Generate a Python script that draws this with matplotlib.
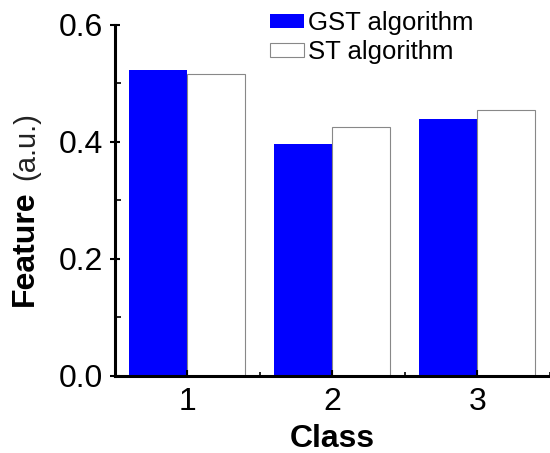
import numpy as np
import matplotlib
matplotlib.use("Agg")
import matplotlib.pyplot as plt
from matplotlib.ticker import MultipleLocator

plt.rcParams['font.family'] = ['Liberation Sans', 'DejaVu Sans']

# data
classes = [1, 2, 3]
gst_values = [0.523, 0.397, 0.439]
st_values = [0.516, 0.426, 0.455]
series_labels = ['GST algorithm', 'ST algorithm']

fig = plt.figure(figsize=(5.5, 4.53), dpi=100)
ax = fig.add_axes([0.209, 0.170, 0.791, 0.775])

x = np.array(classes)
width = 0.4
ax.bar(x - width / 2, gst_values, width, color='#0000ff', edgecolor='none',
       label=series_labels[0])
ax.bar(x + width / 2, st_values, width, color='white', edgecolor='#888888',
       linewidth=0.8, label=series_labels[1])

ax.set_xlim(0.5, 3.5)
ax.set_ylim(0, 0.6)
ax.set_xticks(classes)
ax.set_yticks([0.0, 0.2, 0.4, 0.6])
ax.yaxis.set_minor_locator(MultipleLocator(0.1))
ax.xaxis.set_minor_locator(MultipleLocator(0.5))
ax.set_yticklabels(['0.0', '0.2', '0.4', '0.6'])

for s in ['top', 'right']:
    ax.spines[s].set_visible(False)
for s in ['left', 'bottom']:
    ax.spines[s].set_linewidth(2.2)

ax.tick_params(axis='both', which='major', labelsize=23, width=1.5)
ax.tick_params(axis='y', which='major', direction='inout', length=7, pad=5)
ax.tick_params(axis='y', which='minor', direction='in', length=4, width=1.2)
ax.tick_params(axis='x', which='major', direction='in', length=4, pad=8)
ax.tick_params(axis='x', which='minor', direction='in', length=3, width=1.2)

ax.set_xlabel('Class', fontsize=23, fontweight='bold', labelpad=5)

# y label: bold word + lighter unit on the same baseline
fig.text(33 / 550, 1 - 306 / 453, 'Feature', rotation=90, rotation_mode='anchor',
         ha='left', va='baseline', fontsize=23, fontweight='bold')
fig.text(34 / 550, 1 - 180 / 453, '(a.u.)', rotation=90, rotation_mode='anchor',
         ha='left', va='baseline', fontsize=21, color='#222222')

ax.legend(loc='upper left', bbox_to_anchor=(0.357, 1.04), frameon=False,
          fontsize=18.5, handlelength=1.33, handleheight=0.45, handletextpad=0.15,
          labelspacing=0.2, borderaxespad=0, borderpad=0)

fig.savefig('out.png', dpi=100)
